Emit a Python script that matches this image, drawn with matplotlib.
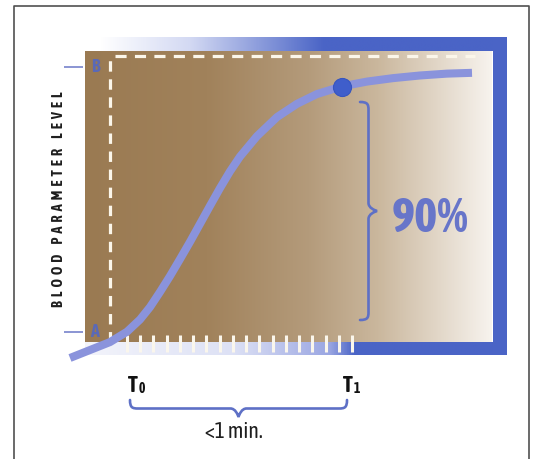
import numpy as np
import matplotlib
matplotlib.use("Agg")
import matplotlib.pyplot as plt
from matplotlib import font_manager
from matplotlib.colors import LinearSegmentedColormap
from matplotlib.path import Path
from matplotlib.patches import PathPatch
from matplotlib.transforms import Affine2D

plt.rcParams['lines.scale_dashes'] = False

# ---------------------------------------------------------------
# DATA
#   time in tick steps after T0, level as fraction A (0) -> B (1)
# ---------------------------------------------------------------
curve_t = [-4.307, -2.796, -1.284, 0.000, 0.982, 1.738, 2.493, 3.249, 4.005, 4.760,
           5.516, 6.271, 7.027, 7.782, 8.538, 9.822, 11.334, 12.845, 14.356, 16.245,
           18.134, 20.098, 22.138, 24.178, 26.067]
curve_lvl = [-0.098, -0.068, -0.038, 0.001, 0.047, 0.094, 0.151, 0.211, 0.275, 0.340,
             0.408, 0.476, 0.543, 0.606, 0.662, 0.739, 0.811, 0.861, 0.898, 0.927,
             0.945, 0.958, 0.968, 0.975, 0.978]
dot_t, dot_lvl = 16.245, 0.925
time_ticks = list(range(18))          # white ticks T0 ... T1
level_names = ['A', 'B']
level_vals = [0.0, 1.0]
ylabel = "BLOOD PARAMETER LEVEL"
pct_label = "90%"
dur_label = "<1 min."

# ---------------------------------------------------------------
# FONTS: look for a bold narrow / condensed sans
# ---------------------------------------------------------------
COND = ('ultra-condensed', 'extra-condensed', 'condensed', 'semi-condensed')

def wnum(w):
    if isinstance(w, (int, float)):
        return w
    return font_manager.weight_dict.get(str(w), 400)

def pick_narrow():
    named, stretched = [], []
    for f in font_manager.fontManager.ttflist:
        if any(k in f.name for k in ('Serif', 'Mono', 'CJK')) or f.style != 'normal':
            continue
        if 'Narrow' in f.name or 'Condensed' in f.name:
            named.append(f)
        elif f.stretch in COND:
            stretched.append(f)
    cands = named or stretched
    if not cands:
        return 'Roboto', 'normal', 700
    best = min(cands, key=lambda f: abs(wnum(f.weight) - 700))
    return best.name, best.stretch, wnum(best.weight)

nf, STRETCH, BOLD = pick_narrow()
NARROW = [nf, 'DejaVu Sans']

# ---------------------------------------------------------------
# CANVAS
# ---------------------------------------------------------------
W, H = 538, 459
BLUE = '#4a64c6'
CURVE = '#8a93dc'
BRACE = '#5e70c6'

fig = plt.figure(figsize=(W/100, H/100), dpi=100)
fig.patch.set_facecolor('white')
ax = fig.add_axes([0, 0, 1, 1])
ax.set_xlim(0, W); ax.set_ylim(H, 0)
ax.axis('off')

# chart coords -> canvas pixels (T0 at x=127, 13.24 px / step, A at y=332, B at y=67)
chart = Affine2D().scale(13.235, -265.0).translate(127, 332) + ax.transData

def hgrad(x0, x1, y0, y1, stops, z):
    cmap = LinearSegmentedColormap.from_list('g', stops)
    ax.imshow(np.linspace(0, 1, 512)[None, :], cmap=cmap, extent=(x0, x1, y1, y0),
              aspect='auto', interpolation='bilinear', zorder=z)

# blue frame behind the plot area
hgrad(100, 507, 37, 51, [(0, '#ffffff'), (0.22, '#d3d9f3'), (0.55, BLUE), (1, BLUE)], 1)
hgrad(85, 507, 342, 355, [(0, '#f3f4fb'), (0.35, '#dde1f5'), (0.58, '#9aa6e2'),
                          (0.64, BLUE), (1, BLUE)], 1)
ax.fill_between([493, 507], 37, 355, color=BLUE, lw=0, zorder=1)
# brown plot area
hgrad(85, 492, 51, 342, [(0, '#9a7a52'), (0.3, '#a1825b'), (0.55, '#b49b7b'),
                         (0.72, '#cab79d'), (0.87, '#e2d7c8'), (1, '#f7f3ee')], 2)
ax.set_xlim(0, W); ax.set_ylim(H, 0)

# outer border
ax.plot([14, 14, 529, 529], [470, 6, 6, 470], color='#505050', lw=1.2, zorder=3)

# dashed guides
ax.plot([110, 110], [342, 56], color='#fbf6ea', lw=2.3, ls=(0, (7.5, 5.5)), zorder=3,
        dash_capstyle='butt')
ax.plot([115, 475], [56, 56], color='#fbf6ea', lw=2.3, ls=(0, (8.0, 6.0)), zorder=3,
        dash_capstyle='butt')

# white time ticks
ax.vlines(time_ticks, -0.011, -0.075, colors='#faf6ec', lw=2.2, zorder=4, transform=chart)

# level marks and letters
ax.hlines(level_vals, -4.76, -3.32, colors='#6b78c8', lw=1.1, zorder=4, transform=chart)
for nm, lv in zip(level_names, level_vals):
    ax.text(-2.42, lv, nm, transform=chart, ha='center', va='center', fontsize=13,
            fontweight=BOLD, family=NARROW, stretch=STRETCH, color='#4f66c8',
            alpha=0.85, zorder=4)

# curve and 90% dot
ax.plot(curve_t, curve_lvl, color=CURVE, lw=5.8, solid_capstyle='butt',
        solid_joinstyle='round', zorder=5, transform=chart)
ax.plot([dot_t], [dot_lvl], 'o', ms=13, color='#3f5ecb', mec='#3655c0', mew=0.8,
        zorder=6, transform=chart)

# braces
def brace(p0, eu, ev, L, d, r=8.0):
    h = d / 2.0
    m = L / 2.0
    local = [(0, 0), (0, h * 0.9), (r * 0.3, h), (r, h),
             (m - r, h),
             (m - r * 0.4, h), (m - r * 0.1, d * 0.85), (m, d),
             (m + r * 0.1, d * 0.85), (m + r * 0.4, h), (m + r, h),
             (L - r, h),
             (L - r * 0.3, h), (L, h * 0.9), (L, 0)]
    codes = [Path.MOVETO, Path.CURVE4, Path.CURVE4, Path.CURVE4, Path.LINETO,
             Path.CURVE4, Path.CURVE4, Path.CURVE4, Path.CURVE4, Path.CURVE4, Path.CURVE4,
             Path.LINETO, Path.CURVE4, Path.CURVE4, Path.CURVE4]
    pts = [(p0[0] + u * eu[0] + v * ev[0], p0[1] + u * eu[1] + v * ev[1]) for u, v in local]
    ax.add_patch(PathPatch(Path(pts, codes), fc='none', ec=BRACE, lw=1.9,
                           capstyle='round', zorder=5))

brace((360, 102), (0, 1), (1, 0), 218, 17)
brace((130, 400), (1, 0), (0, 1), 217, 17)

# texts
renderer = fig.canvas.get_renderer()

def fit(txt, target, along='h'):
    # shrink/grow font so the text spans the target pixel length
    bb = txt.get_window_extent(renderer)
    cur = bb.height if along == 'v' else bb.width
    txt.set_fontsize(txt.get_fontsize() * target / cur)

# letter-spaced axis label (two spaces between letters, wider gap between words)
spaced = "     ".join("  ".join(word) for word in ylabel.split())
yl = ax.text(59, 199, spaced, rotation=90, ha='center', va='center', fontsize=10,
             fontweight=BOLD, family=NARROW, stretch=STRETCH, color='#1e1e1e', zorder=6)
fit(yl, 213, 'v')
pt = ax.text(430, 232, pct_label, ha='center', va='baseline', fontsize=35, fontweight=BOLD,
             family=NARROW, stretch=STRETCH, color='#6775c9', zorder=6)
fit(pt, 77)
for x, sub in [(128, '0'), (343, '1')]:
    tt = ax.text(x, 392, 'T', ha='left', va='baseline', fontsize=16, fontweight=BOLD,
                 family=NARROW, stretch=STRETCH, color='#111111', zorder=6)
    x_end = ax.transData.inverted().transform(tt.get_window_extent(renderer).p1)[0]
    ax.text(x_end + 0.5, 393, sub, ha='left', va='baseline', fontsize=10, fontweight=BOLD,
            family=NARROW, stretch=STRETCH, color='#111111', zorder=6)
dl = ax.text(234, 438, dur_label, ha='center', va='baseline', fontsize=15,
             family=NARROW, stretch=STRETCH, color='#1e1e1e', zorder=6)
fit(dl, 58)

fig.savefig('out.png', dpi=100)
